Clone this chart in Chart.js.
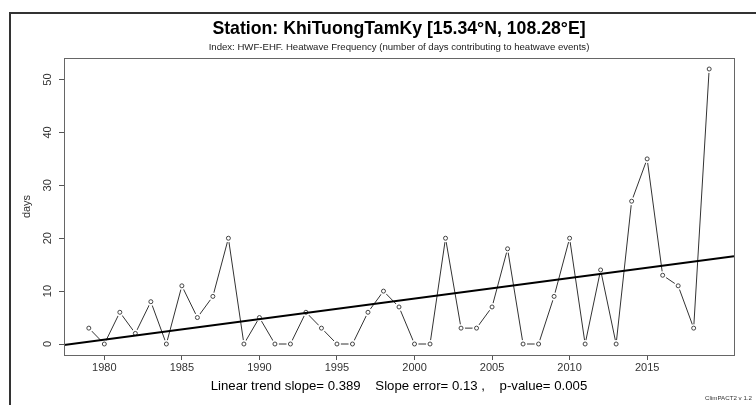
<!DOCTYPE html>
<html>
<head>
<meta charset="utf-8">
<script src="https://cdn.jsdelivr.net/npm/chart.js@4/dist/chart.umd.min.js"></script>
<style>
  html, body { margin: 0; padding: 0; background: #fff; }
  #wrap { width: 756px; height: 405px; }
</style>
</head>
<body>
<div id="wrap"><canvas id="chHwf" width="756" height="405"></canvas></div>
<script>
// yearly heatwave frequency (days)
var years = [1979,1980,1981,1982,1983,1984,1985,1986,1987,1988,
             1989,1990,1991,1992,1993,1994,1995,1996,1997,1998,
             1999,2000,2001,2002,2003,2004,2005,2006,2007,2008,
             2009,2010,2011,2012,2013,2014,2015,2016,2017,2018,2019];
var days = [3,0,6,2,8,0,11,5,9,20,
            0,5,0,0,6,3,0,0,6,10,
            7,0,0,20,3,3,7,18,0,0,
            9,20,0,14,0,27,35,13,11,3,52];
var xTicks = [1980,1985,1990,1995,2000,2005,2010,2015];
var yTicks = [0,10,20,30,40,50];
var statsText = ['Linear trend slope= 0.389', 'Slope error= 0.13 ,', 'p-value= 0.005'];

// R style axis range (4% extension)
var xMin = 1977.4, xMax = 2020.6;
var yMin = -2.08, yMax = 54.08;

// least squares trend from the data
var n = years.length, mx = 0, my = 0;
years.forEach(function(x, i){ mx += x; my += days[i]; });
mx /= n; my /= n;
var sxy = 0, sxx = 0;
years.forEach(function(x, i){ sxy += (x - mx) * (days[i] - my); sxx += (x - mx) * (x - mx); });
var slope = sxy / sxx, icept = my - slope * mx;

var pts = years.map(function(y, i){ return {x: y, y: days[i]}; });
var trendPts = [xMin, xMax].map(function(x){ return {x: x, y: icept + slope * x}; });

var font = '"Liberation Sans", Arial, sans-serif';

var extras = {
  id: 'extras',
  afterDraw: function(chart) {
    var ctx = chart.ctx, a = chart.chartArea;
    var cx = (a.left + a.right) / 2;
    ctx.save();
    // plot box
    ctx.strokeStyle = '#666';
    ctx.lineWidth = 1;
    ctx.strokeRect(a.left + 0.5, a.top + 0.5, a.right - a.left, a.bottom - a.top);
    // outer frame
    ctx.strokeStyle = '#333';
    ctx.lineWidth = 2;
    ctx.strokeRect(10, 13, 800, 450);
    // titles
    ctx.fillStyle = '#000';
    ctx.textAlign = 'center';
    ctx.textBaseline = 'middle';
    ctx.font = 'bold 17.7px ' + font;
    ctx.fillText('Station: KhiTuongTamKy [15.34\u00b0N, 108.28\u00b0E]', cx, 29);
    ctx.fillStyle = '#222';
    ctx.font = '9.6px ' + font;
    ctx.fillText('Index: HWF-EHF. Heatwave Frequency (number of days contributing to heatwave events)', cx, 47);
    // y tick labels, rotated like R
    var ys = chart.scales.y;
    ctx.fillStyle = '#333';
    ctx.font = '11px ' + font;
    yTicks.forEach(function(v){
      ctx.save();
      ctx.translate(48, ys.getPixelForValue(v));
      ctx.rotate(-Math.PI / 2);
      ctx.fillText(String(v), 0, 0);
      ctx.restore();
    });
    // y axis title
    ctx.save();
    ctx.translate(27, (a.top + a.bottom) / 2);
    ctx.rotate(-Math.PI / 2);
    ctx.fillText('days', 0, 0);
    ctx.restore();
    // stats line
    ctx.fillStyle = '#000';
    ctx.font = '13.2px ' + font;
    ctx.fillText(statsText.join('    '), cx, 386);
    // credit
    ctx.fillStyle = '#333';
    ctx.textAlign = 'right';
    ctx.font = '6.2px ' + font;
    ctx.fillText('ClimPACT2 v 1.2', 752, 398);
    ctx.restore();
  }
};

new Chart(document.getElementById('chHwf'), {
  type: 'scatter',
  data: {
    datasets: [
      { // connecting line
        data: pts, showLine: true, pointRadius: 0,
        borderColor: '#333', borderWidth: 1, order: 4
      },
      { // white gaps around points (R type "b")
        data: pts, showLine: false, pointRadius: 4,
        pointBackgroundColor: '#fff', pointBorderColor: '#fff', pointBorderWidth: 0, order: 3
      },
      { // open circles
        data: pts, showLine: false, pointRadius: 2,
        pointBackgroundColor: '#fff', pointBorderColor: '#444', pointBorderWidth: 1, order: 2
      },
      { // linear trend
        data: trendPts, showLine: true, pointRadius: 0,
        borderColor: '#000', borderWidth: 2, order: 1
      }
    ]
  },
  options: {
    responsive: false,
    animation: false,
    events: [],
    layout: { padding: { top: 58, right: 22, left: 0, bottom: 0 } },
    plugins: { legend: { display: false }, tooltip: { enabled: false } },
    scales: {
      x: {
        type: 'linear', min: xMin, max: xMax,
        afterBuildTicks: function(s){ s.ticks = xTicks.map(function(v){ return {value: v}; }); },
        afterFit: function(s){ s.height = 50; },
        border: { display: false },
        grid: { drawOnChartArea: false, drawTicks: true, tickLength: 5, color: '#555' },
        ticks: {
          padding: 1, color: '#333', font: { family: font, size: 11 },
          maxRotation: 0, callback: function(v){ return String(v); }
        }
      },
      y: {
        type: 'linear', min: yMin, max: yMax,
        afterBuildTicks: function(s){ s.ticks = yTicks.map(function(v){ return {value: v}; }); },
        afterFit: function(s){ s.width = 64; },
        border: { display: false },
        grid: { drawOnChartArea: false, drawTicks: true, tickLength: 5, color: '#555' },
        ticks: { display: false }
      }
    }
  },
  plugins: [extras]
});
</script>
</body>
</html>
